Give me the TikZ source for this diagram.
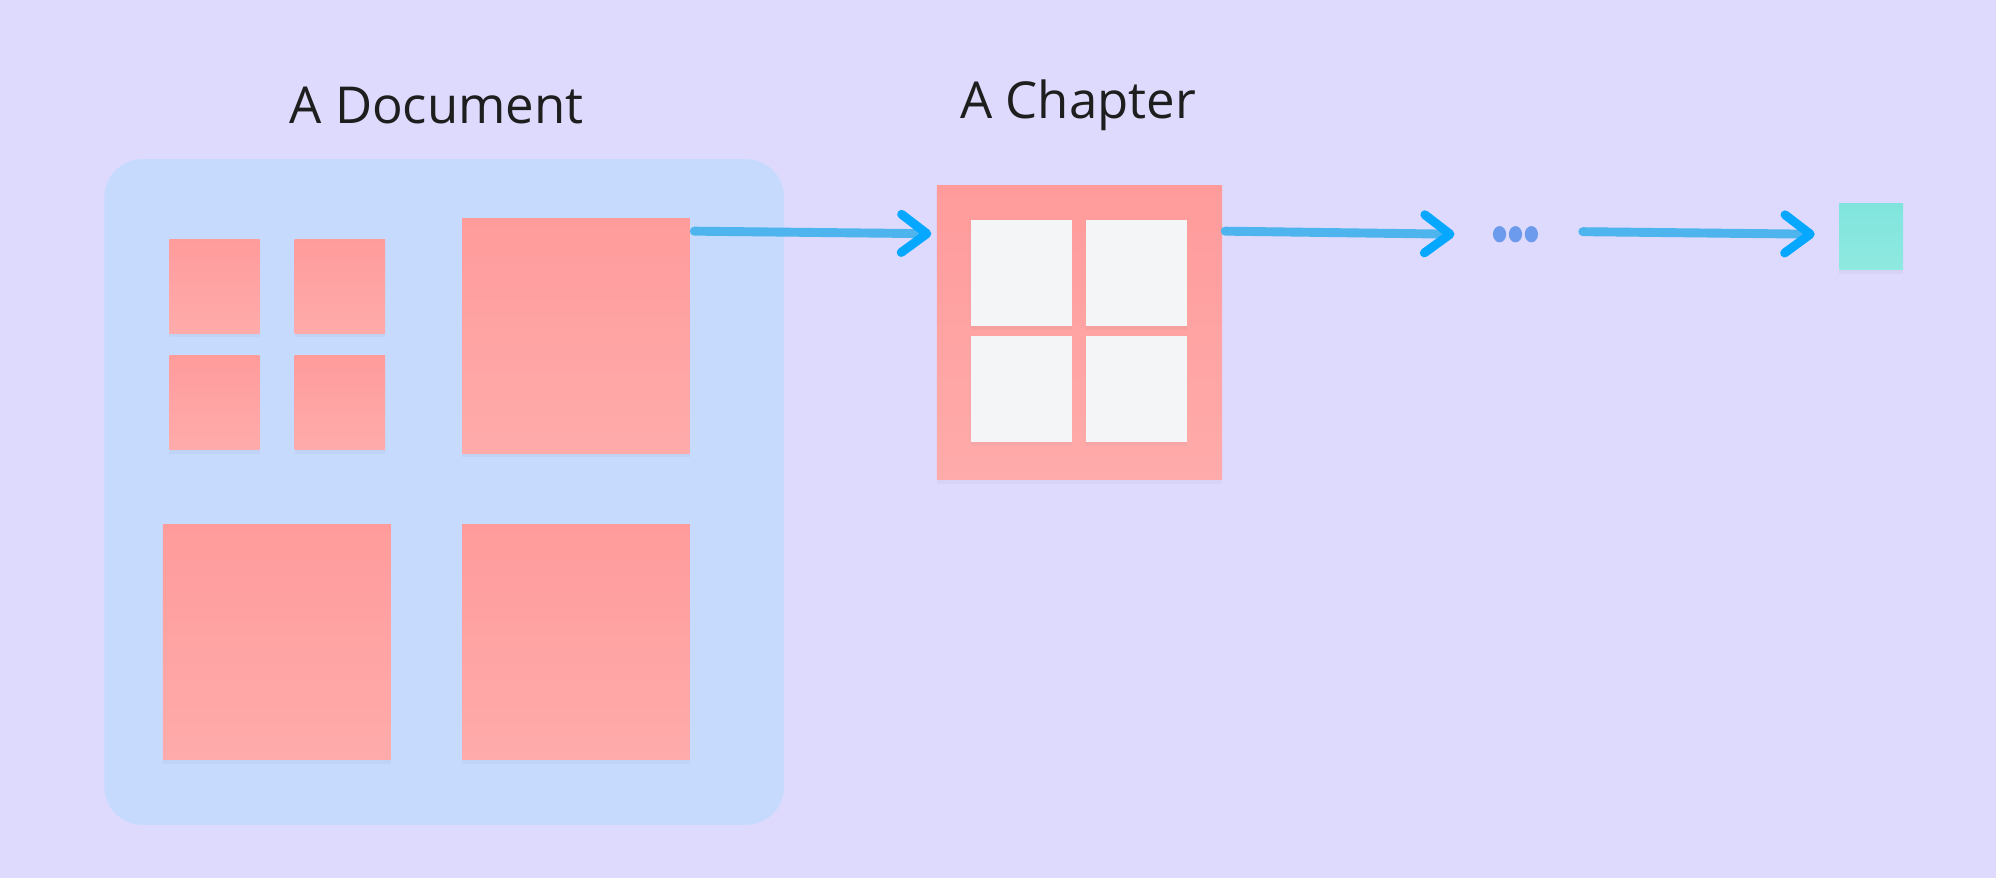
\documentclass[tikz,border=0pt]{standalone}
\usepackage{fontspec}
\setmainfont{Open Sans}
\usetikzlibrary{arrows.meta,shadows}
\definecolor{bg}{HTML}{DEDAFD}
\definecolor{docblue}{HTML}{C6DAFD}
\definecolor{redtop}{HTML}{FF9B9B}
\definecolor{redbot}{HTML}{FFABAB}
\definecolor{paper}{HTML}{F4F5F7}
\definecolor{teal}{HTML}{80E4DD}
\definecolor{tealbot}{HTML}{8FEAE1}
\definecolor{linkblue}{HTML}{4DB4EE}
\definecolor{tipblue}{HTML}{06A7FF}
\definecolor{dotblue}{HTML}{6C9BEE}
\definecolor{ink}{HTML}{1E1E1E}
\tikzset{
  note/.style={inner sep=0pt,top color=redtop,bottom color=redbot,
    drop shadow={opacity=0.07,shadow xshift=0pt,shadow yshift=-1.5pt}},
  sheet/.style={inner sep=0pt,fill=paper,
    drop shadow={opacity=0.07,shadow xshift=0pt,shadow yshift=-1.5pt}},
  link/.style={line width=3.5pt,line cap=round,color=linkblue,
    -{Straight Barb[length=10pt,width=15pt,line cap=round,line join=round,color=tipblue]}},
  title/.style={text=ink,font=\fontsize{20}{24}\selectfont}
}
\begin{document}
\begin{tikzpicture}[x=0.5pt,y=-0.5pt]
              \fill[bg] (0,0) rectangle (1568,689.8);
              \useasboundingbox (0,0) rectangle (1568,689.8);
              % the document
              \node[title] (doctitle) at (343,83) {A Document};
              \node[fill=docblue,rounded corners=15pt,minimum width=267pt,minimum height=261.5pt,inner sep=0pt] (doc) at (349,386.5) {};
              \node[note,minimum width=35.5pt,minimum height=37pt] (s1) at (168.5,225) {};
              \node[note,minimum width=35.5pt,minimum height=37pt] (s2) at (267,225) {};
              \node[note,minimum width=35.5pt,minimum height=37pt] (s3) at (168.5,316.5) {};
              \node[note,minimum width=35.5pt,minimum height=37pt] (s4) at (267,316.5) {};
              \node[note,minimum width=89.5pt,minimum height=92pt] (tr) at (452.5,264) {};
              \node[note,minimum width=89.5pt,minimum height=92.5pt] (bl) at (217.5,504.5) {};
              \node[note,minimum width=89.5pt,minimum height=92.5pt] (br) at (452.5,504.5) {};
              % the chapter
              \node[title] (chaptitle) at (847,83) {A Chapter};
              \node[note,minimum width=112pt,minimum height=115.5pt] (chap) at (848,261.5) {};
              \node[sheet,minimum width=39.5pt,minimum height=41.5pt] (p1) at (802.5,214.5) {};
              \node[sheet,minimum width=39.5pt,minimum height=41.5pt] (p2) at (893,214.5) {};
              \node[sheet,minimum width=39.5pt,minimum height=41.5pt] (p3) at (802.5,305.5) {};
              \node[sheet,minimum width=39.5pt,minimum height=41.5pt] (p4) at (893,305.5) {};
              % and so on
              \node[minimum width=18pt,minimum height=6pt,inner sep=0pt] (more) at (1190.5,184) {};
              \foreach \dx in {-12.5,0,12.5}
                \fill[dotblue] ([shift={(\dx,0)}]more.center) ellipse[x radius=2.6pt,y radius=3.2pt];
              \node[inner sep=0pt,top color=teal,bottom color=tealbot,minimum width=25pt,minimum height=26pt,
                drop shadow={opacity=0.07,shadow xshift=0pt,shadow yshift=-1.5pt}] (leaf) at (1470,186) {};
              \draw[link] ([shift={(3,10)}]tr.north east) -- ([shift={(-4,38)}]chap.north west);
              \draw[link] ([shift={(2,36)}]chap.north east) -- ([shift={(-29.5,0)}]more.west);
              \draw[link] ([shift={(34.5,-2)}]more.east) -- ([shift={(-19,-2)}]leaf.west);
            \end{tikzpicture}
\end{document}
